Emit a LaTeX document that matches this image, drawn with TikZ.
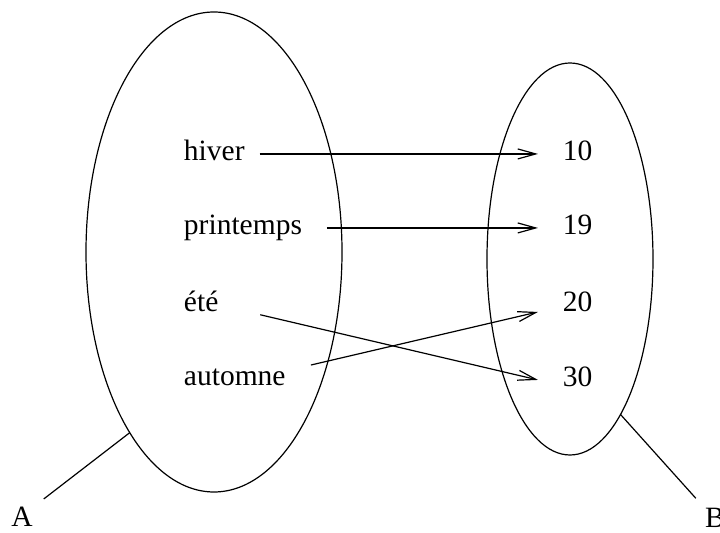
\documentclass[tikz,border=0pt]{standalone}
\usepackage{fontspec}
\setmainfont{Liberation Serif}
\usepackage{tikz}
\usetikzlibrary{arrows.meta, positioning, shapes.geometric}

\begin{document}
\begin{tikzpicture}[
  x=0.5pt, y=-0.5pt,
  line width=0.6pt,
  every node/.style={inner sep=0pt, outer sep=0pt, font=\fontsize{14.75}{17}\selectfont},
  set/.style={ellipse, draw},
  elem/.style={anchor=base west, text height=10.3pt, text depth=3.25pt},
  image/.style={elem, inner xsep=12.5pt},
  map/.style={-{Straight Barb[length=9pt, width=5pt]}}
]
\useasboundingbox (0,0) rectangle (720,533);

% the two sets
\node[set, minimum width=128pt, minimum height=240pt] (setA) at (214,252) {};
\node[set, minimum width=83pt, minimum height=196pt] (setB) at (570,259) {};

% elements of A
\node[elem] (hiver) at (184,161) {hiver};
\node[elem] (printemps) at (184,235) {printemps};
\node[elem] (ete) at (184,312) {été};
\node[elem] (automne) at (184,386) {automne};

% elements of B
\node[image] (n10) at (538,161) {10};
\node[image] (n19) at (538,235) {19};
\node[image] (n20) at (538,312) {20};
\node[image] (n30) at (538,387) {30};

% names
\node[anchor=base] (labA) at (22,527) {A};
\node[anchor=base] (labB) at (715,528) {B};

\draw[map, shorten <=7.5pt] (hiver.east) -- (n10.west);
\draw[map, shorten <=12.5pt] (printemps.east) -- (n19.west);
\draw[map, shorten <=21.5pt] (ete.east) -- (n30.west);
\draw[map, shorten <=13pt] ([yshift=4pt]automne.east) -- ([yshift=-3.5pt]n20.west);

\draw[shorten >=7pt] (setA.245) -- (labA.north east);
\draw[shorten >=7pt] (setB.288) -- (labB.north west);

\end{tikzpicture}
\end{document}
